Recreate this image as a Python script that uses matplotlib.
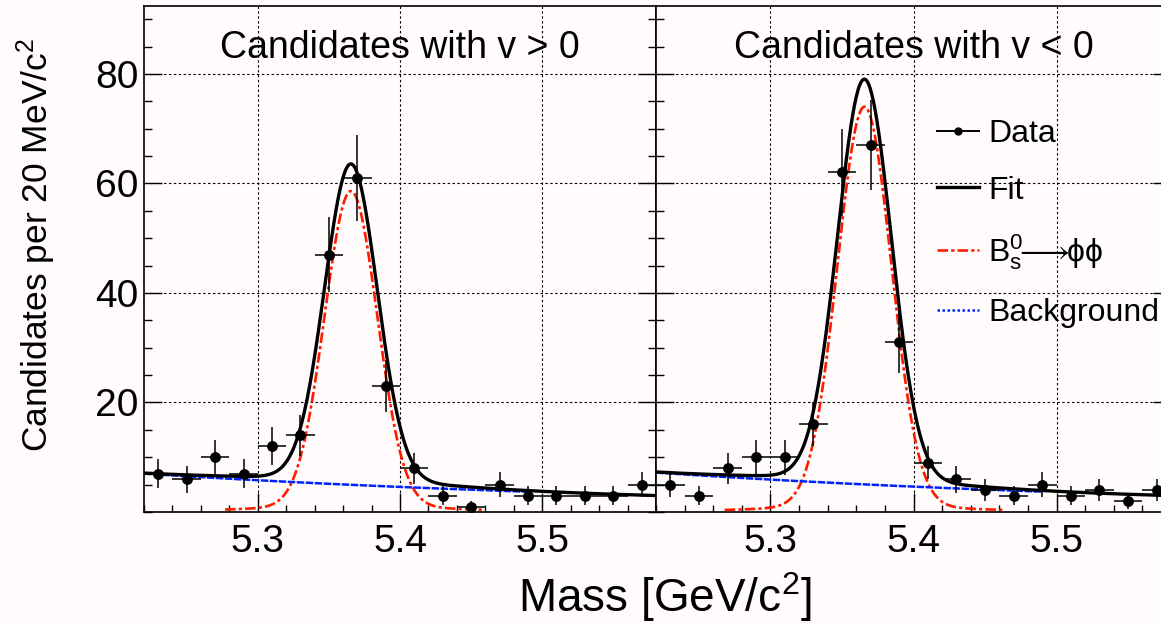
import numpy as np
import matplotlib
matplotlib.use("Agg")
import matplotlib.pyplot as plt
from matplotlib.ticker import MultipleLocator, FixedLocator
from matplotlib.lines import Line2D

plt.rcParams['font.family'] = ['Liberation Sans', 'DejaVu Sans']
plt.rcParams['mathtext.fontset'] = 'custom'
plt.rcParams['mathtext.rm'] = 'Liberation Sans'
plt.rcParams['mathtext.it'] = 'Liberation Sans:italic'
plt.rcParams['mathtext.fallback'] = 'stixsans'

# bin centres, 20 MeV bins
mass_bins = [5.23, 5.25, 5.27, 5.29, 5.31, 5.33, 5.35, 5.37, 5.39,
             5.41, 5.43, 5.45, 5.47, 5.49, 5.51, 5.53, 5.55, 5.57]
counts_pos = [7, 6, 10, 7, 12, 14, 47, 61, 23, 8, 3, 1, 5, 3, 3, 3, 3, 5]
counts_neg = [5, 3, 8, 10, 10, 16, 62, 67, 31, 9, 6, 4, 3, 5, 3, 4, 2, 4]

panel_titles = ["Candidates with v > 0", "Candidates with v < 0"]
legend_labels = ["Data", "Fit",
                 r"B$_{\mathrm{s}}^{0}\!\!\longrightarrow\!\!\mathrm{\phi\phi}$",
                 "Background"]

# fit parameters: mean, sigma, peak, wide amp, wide sigma, bkg at 5.22, bkg slope
fit_pos = dict(mean=5.3655, sigma=0.0185, peak=57.6, wide=1.0, wide_sigma=0.07, bkg0=7.0, k=2.36)
fit_neg = dict(mean=5.3657, sigma=0.0188, peak=73.0, wide=1.0, wide_sigma=0.07, bkg0=7.2, k=2.45)
signal_range_pos = (5.277, 5.4575)
signal_range_neg = (5.268, 5.463)
bkg_range = (5.22, 5.49)

xlim = (5.22, 5.58)
ylim = (0, 92.4)
bg_col = '#fffcfb'


def signal(x, p):
    return (p['peak'] * np.exp(-0.5 * ((x - p['mean']) / p['sigma']) ** 2)
            + p['wide'] * np.exp(-0.5 * ((x - p['mean']) / p['wide_sigma']) ** 2))


def background(x, p):
    return p['bkg0'] * np.exp(-p['k'] * (x - 5.22))


def draw_panel(ax, counts, p, sig_range, title):
    ax.set_facecolor(bg_col)
    ax.set_xlim(*xlim)
    ax.set_ylim(*ylim)
    ax.grid(True, which='major', color='black', linestyle=(0, (2.2, 2.2)), linewidth=0.8)
    ax.set_axisbelow(True)

    x = np.array(mass_bins)
    y = np.array(counts, dtype=float)
    ax.errorbar(x, y, yerr=np.sqrt(y), xerr=0.01, fmt='o', color='black',
                ms=6.8, elinewidth=1.1, capsize=0, zorder=5)

    xs = np.linspace(xlim[0], xlim[1], 600)
    ax.plot(xs, signal(xs, p) + background(xs, p), color='black', lw=2.4, zorder=4)
    xsig = np.linspace(sig_range[0], sig_range[1], 400)
    ax.plot(xsig, signal(xsig, p), color='#ff1a00', lw=1.9,
            linestyle=(0, (4, 1.2, 1.2, 1.2)), zorder=3)
    xb = np.linspace(bkg_range[0], bkg_range[1], 300)
    ax.plot(xb, background(xb, p), color='#0022ff', lw=1.8,
            linestyle=(0, (3, 0.6)), zorder=3)

    ax.text(0.5, 0.898, title, transform=ax.transAxes, ha='center', va='baseline',
            fontsize=27)

    ax.xaxis.set_major_locator(FixedLocator([5.3, 5.4, 5.5]))
    ax.xaxis.set_minor_locator(MultipleLocator(0.02))
    ax.yaxis.set_major_locator(FixedLocator([20, 40, 60, 80]))
    ax.yaxis.set_minor_locator(MultipleLocator(5))
    ax.tick_params(axis='x', which='major', direction='in', length=14, width=1.0,
                   labelsize=28, pad=9, top=False)
    ax.tick_params(axis='x', which='minor', direction='in', length=5, width=1.0, top=False)
    ax.tick_params(axis='y', which='major', direction='in', length=13, width=1.0,
                   labelsize=28, pad=4, right=True)
    ax.tick_params(axis='y', which='minor', direction='in', length=6, width=1.0, right=True)
    ax.set_xticklabels(['5.3', '5.4', '5.5'])
    for s in ax.spines.values():
        s.set_linewidth(1.2)


W, H = 1161, 625
fig = plt.figure(figsize=(W / 100, H / 100), dpi=100, facecolor=bg_col)

ax1 = fig.add_axes([144 / W, 1 - 512 / H, 512 / W, 506 / H])
ax2 = fig.add_axes([656 / W, 1 - 512 / H, 515 / W, 506 / H])

draw_panel(ax1, counts_pos, fit_pos, signal_range_pos, panel_titles[0])
draw_panel(ax2, counts_neg, fit_neg, signal_range_neg, panel_titles[1])
ax2.tick_params(axis='y', which='both', labelleft=False)

handles = [
    Line2D([], [], color='black', marker='o', ms=5, lw=1.4),
    Line2D([], [], color='black', lw=2.4),
    Line2D([], [], color='#ff1a00', lw=1.9, linestyle=(0, (4, 1.2, 1.2, 1.2))),
    Line2D([], [], color='#0022ff', lw=1.8, linestyle=(0, (1, 1))),
]
ax2.legend(handles, legend_labels, loc='upper left', frameon=False,
           bbox_to_anchor=(937 / W, 1 - 119 / H), bbox_transform=fig.transFigure,
           fontsize=23, handlelength=1.3, handletextpad=0.3, labelspacing=0.83,
           borderpad=0, borderaxespad=0)

fig.text(665 / W, 1 - 612 / H, r'Mass [GeV/c$^{2}$]', ha='center', va='baseline', fontsize=33)
fig.text(36 / W, 1 - 245 / H, r'Candidates per 20 MeV/c$^{2}$', ha='center', va='center',
         rotation=90, fontsize=25.5)

fig.savefig('out.png', dpi=100, facecolor=bg_col)
